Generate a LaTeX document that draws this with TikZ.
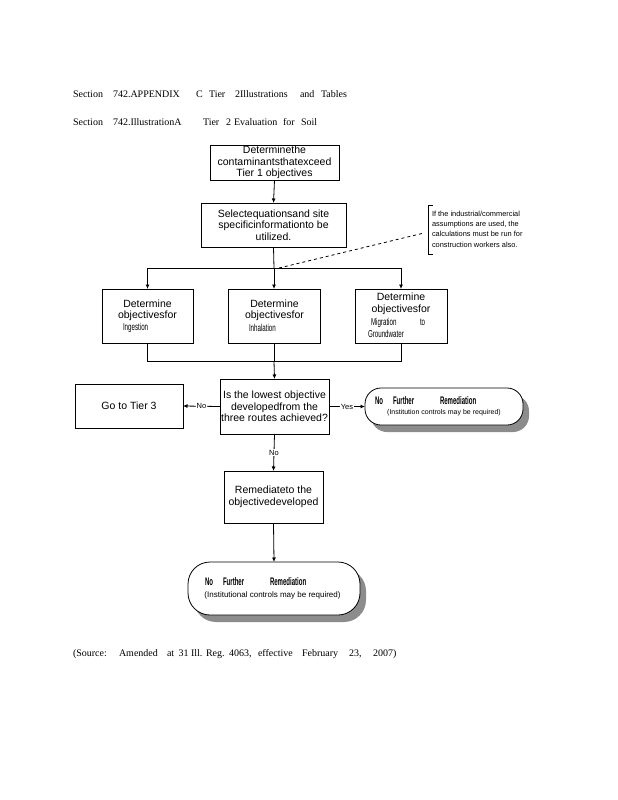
\documentclass[tikz,border=0pt]{standalone}
\usepackage{fontspec}
\setmainfont{Liberation Serif}
\setsansfont{Liberation Sans}
\usetikzlibrary{arrows.meta,shadows}
\newcommand{\cnd}[1]{\scalebox{0.62}[1]{\fontsize{10}{10}\selectfont #1}}
\newcommand{\nfr}[1]{\scalebox{0.55}[1]{\fontsize{11}{11}\selectfont\bfseries #1}}
\begin{document}
\begin{tikzpicture}[x=1pt,y=-1pt,
  every node/.style={inner sep=0pt, outer sep=0pt},
  box/.style={draw, line width=0.8pt, fill=white, align=center,
    font=\sffamily\fontsize{10.5}{11.5}\selectfont},
  term/.style={box, drop shadow={shadow xshift=6pt, shadow yshift=-7pt, fill=black!45, opacity=1}},
  hdr/.style={anchor=base west, font=\rmfamily\fontsize{10}{12}\selectfont},
  txt/.style={font=\sffamily\fontsize{10.5}{11.5}\selectfont},
  arr/.style={line width=0.8pt, -{Latex[length=4.5pt,width=4pt]}},
  ln/.style={line width=0.8pt},
  lab/.style={fill=white, inner sep=1pt, font=\sffamily\fontsize{7.5}{8}\selectfont}]
\useasboundingbox (0,0) rectangle (618,800);
\fill[white] (0,0) rectangle (618,800);

% header lines
\node[hdr] (h1a) at (73,97) {Section};
\node[hdr] (h1b) at (113,97) {742.APPENDIX};
\node[hdr] (h1c) at (196,97) {C};
\node[hdr] (h1d) at (209,97) {Tier};
\node[hdr] (h1e) at (235,97) {2Illustrations};
\node[hdr] (h1f) at (300,97) {and};
\node[hdr] (h1g) at (321,97) {Tables};

\node[hdr] (h2a) at (73,125) {Section};
\node[hdr] (h2b) at (113,125) {742.IllustrationA};
\node[hdr] (h2c) at (203,125) {Tier};
\node[hdr] (h2d) at (226,125) {2};
\node[hdr] (h2e) at (234,125) {Evaluation};
\node[hdr] (h2f) at (283,125) {for};
\node[hdr] (h2g) at (301,125) {Soil};

% boxes
\node[box, minimum width=129pt, minimum height=35pt] (b1) at (274.5,162.5)
  {Determinethe\\contaminantsthatexceed\\Tier 1 objectives};
\node[box, minimum width=145pt, minimum height=44pt] (b2) at (273.5,225)
  {Selectequationsand site\\specificinformationto be\\utilized.};

\node[box, minimum width=91pt, minimum height=54pt] (b3) at (147.5,316) {};
\node[box, minimum width=92pt, minimum height=54pt] (b4) at (274,316) {};
\node[box, minimum width=92pt, minimum height=54pt] (b5) at (401,316) {};

\node[txt] (t3a) at (147.5,304) {Determine};
\node[txt] (t3b) at (147.5,315.5) {objectivesfor};
\node[anchor=west] (t3c) at (123,328) {\sffamily\cnd{Ingestion}};
\node[txt] (t4a) at (274.5,304) {Determine};
\node[txt] (t4b) at (274.5,315.5) {objectivesfor};
\node[anchor=west] (t4c) at (249,328) {\sffamily\cnd{Inhalation}};
\node[txt] (t5a) at (401,297) {Determine};
\node[txt] (t5b) at (401,309.5) {objectivesfor};
\node[anchor=west] (t5c) at (371,322.5) {\sffamily\cnd{Migration}};
\node[anchor=west] (t5d) at (420,322.5) {\sffamily\cnd{to}};
\node[anchor=west] (t5e) at (368,333.5) {\sffamily\cnd{Groundwater}};

\node[box, minimum width=109pt, minimum height=55pt] (dec) at (274.5,406.5)
  {Is the lowest objective\\developedfrom the\\three routes achieved?};
\node[box, minimum width=108pt, minimum height=44pt] (t3) at (129,406) {Go to Tier 3};
\node[term, rounded corners=16pt, minimum width=158pt, minimum height=37pt] (e1) at (444,406.5) {};
\node[anchor=base west] (e1a) at (375,404) {\sffamily\nfr{No}};
\node[anchor=base west] (e1b) at (393,404) {\sffamily\nfr{Further}};
\node[anchor=base west] (e1c) at (440,404) {\sffamily\nfr{Remediation}};
\node[font=\sffamily\fontsize{7}{8}\selectfont] (e1d) at (444,413) {(Institution controls may be required)};

\node[box, minimum width=99pt, minimum height=52pt] (rem) at (273.5,497)
  {Remediateto the\\objectivedeveloped};
\node[term, rounded corners=22pt, minimum width=172pt, minimum height=53pt] (e2) at (274,588.5) {};
\node[anchor=base west] (e2a) at (205,585) {\sffamily\nfr{No}};
\node[anchor=base west] (e2b) at (223,585) {\sffamily\nfr{Further}};
\node[anchor=base west] (e2c) at (270,585) {\sffamily\nfr{Remediation}};
\node[font=\sffamily\fontsize{8}{9}\selectfont] (e2d) at (272.5,595) {(Institutional controls may be required)};

% callout
\coordinate (cT) at (433,205);
\coordinate (cTL) at (428,205);
\coordinate (cBL) at (428,254);
\coordinate (cB) at (433,254);
\draw[line width=0.7pt] (cT) -- (cTL) -- (cBL) -- (cB);
\node[anchor=north west, align=left, font=\sffamily\fontsize{7.4}{10.3}\selectfont] (note) at (432,211)
  {If the industrial/commercial\\assumptions are used, the\\calculations must be run for\\construction workers also.};

% connectors
\coordinate (u1) at (274,268);
\coordinate (u1L) at (147.5,268);
\coordinate (u1R) at (401,268);
\coordinate (u2) at (274,361);
\coordinate (u2L) at (147.5,361);
\coordinate (u2R) at (401,361);
\coordinate (ds) at (279,268);
\coordinate (de) at (424,233);

\draw[arr] (b1.south) -- (b2.north);
\draw[ln] (b2.south) -- (u1);
\draw[ln] (u1L) -- (u1R);
\draw[arr] (u1L) -- (b3.north);
\draw[arr] (u1) -- (b4.north);
\draw[arr] (u1R) -- (b5.north);
\draw[ln, dash pattern=on 3pt off 3pt] (ds) -- (de);

\draw[ln] (b3.south) -- (u2L) -- (u2R) -- (b5.south);
\draw[ln] (b4.south) -- (u2);
\draw[arr] (u2) -- (dec.north);

\draw[arr] (dec.west) -- node[lab] (lno1) {No} (t3.east);
\draw[arr] (dec.east) -- node[lab] (lyes) {Yes} (e1.west);
\draw[arr] (dec.south) -- node[lab] (lno2) {No} (rem.north);
\draw[arr] (rem.south) -- (e2.north);

% source
\node[hdr] (s1) at (73,656) {(Source:};
\node[hdr] (s2) at (119,656) {Amended};
\node[hdr] (s3) at (167,656) {at};
\node[hdr] (s4) at (178.5,656) {31};
\node[hdr] (s5) at (191,656) {Ill.};
\node[hdr] (s6) at (206,656) {Reg.};
\node[hdr] (s7) at (229,656) {4063,};
\node[hdr] (s8) at (258,656) {effective};
\node[hdr] (s9) at (302,656) {February};
\node[hdr] (s10) at (349,656) {23,};
\node[hdr] (s11) at (373,656) {2007)};
\end{tikzpicture}
\end{document}
